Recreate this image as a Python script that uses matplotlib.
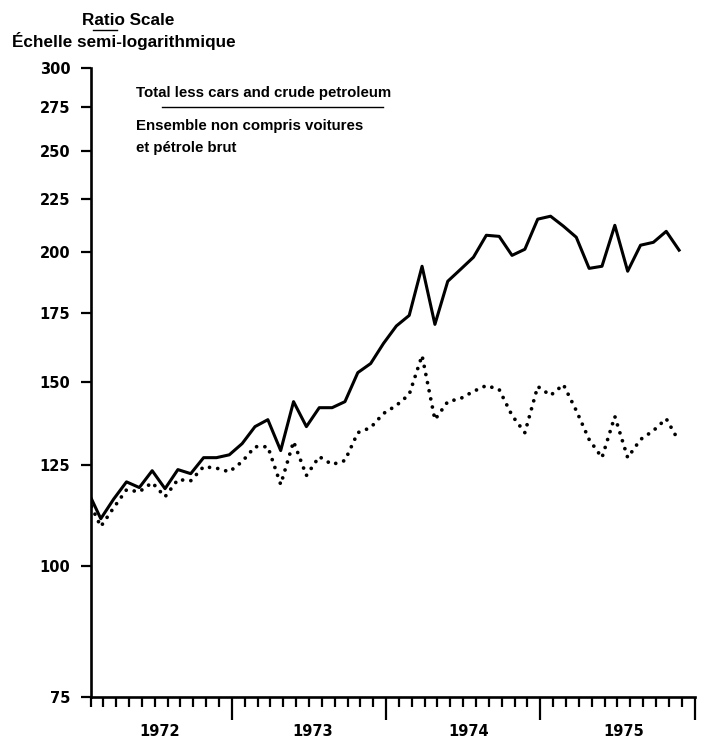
import matplotlib
matplotlib.use("Agg")
import matplotlib.pyplot as plt
from matplotlib.lines import Line2D
import matplotlib.transforms as mtransforms
import numpy as np

# ---- data (monthly index values, Jan 1972 .. Nov 1975) ----
total_less = [118.0, 111.1, 116.0, 120.5, 119.0, 123.5, 118.7, 123.8, 122.7, 127.1,
              127.1, 127.9, 131.1, 136.1, 138.2, 129.1, 143.8, 136.1, 141.9, 141.9,
              143.8, 153.3, 156.4, 163.5, 169.9, 173.9, 193.8, 170.5, 187.5, 192.5,
              197.7, 207.5, 207.0, 198.5, 201.2, 215.0, 216.4, 211.7, 206.6, 192.9,
              193.8, 212.1, 191.7, 203.0, 204.3, 209.3, 200.8]
second = [116.0, 109.2, 113.8, 118.4, 117.9, 120.3, 116.6, 121.1, 120.8, 124.6,
          124.2, 123.2, 126.0, 130.2, 130.2, 119.8, 131.7, 122.2, 127.4, 125.2,
          126.3, 134.3, 135.8, 140.1, 142.6, 146.1, 159.2, 138.2, 143.8, 144.8,
          147.1, 149.0, 147.7, 139.5, 134.3, 148.7, 145.8, 149.3, 141.0, 132.3,
          127.1, 139.2, 127.1, 132.3, 134.9, 138.5, 131.7]
yticks = [75, 100, 125, 150, 175, 200, 225, 250, 275, 300]
years = ["1972", "1973", "1974", "1975"]
year_label_pos = [6.4, 18.3, 30.4, 42.5]
year_ticks = [12, 24, 36, 48]
month_ticks = list(range(1, 48))

W, H = 702, 742
fig = plt.figure(figsize=(W / 100, H / 100), dpi=100)
left_px, right_px, top_px, bot_px = 90.5, 694.5, 68, 697
ax = fig.add_axes([left_px / W, 1 - bot_px / H, (right_px - left_px) / W, (bot_px - top_px) / H])

x = np.arange(len(total_less)) + 0.8
ax.plot(x, total_less, color="black", lw=2.2, solid_joinstyle="round", clip_on=True)
ax.plot(x, second, color="black", lw=2.7, linestyle=(0, (0.01, 2.2)),
        dash_capstyle="round", clip_on=True)

ax.set_yscale("log")
ax.set_ylim(75, 300)
ax.set_xlim(1, 48)
ax.yaxis.set_major_locator(matplotlib.ticker.FixedLocator(yticks))
ax.yaxis.set_minor_locator(matplotlib.ticker.NullLocator())
ax.set_yticklabels([str(v) for v in yticks], fontfamily="DejaVu Sans",
                   fontweight="bold", fontsize=10.5)
ax.tick_params(axis="y", which="major", direction="out", length=7.5, width=1.6, pad=7)

ax.set_xticks(year_ticks)
ax.set_xticklabels([])
ax.set_xticks(month_ticks, minor=True)
ax.tick_params(axis="x", which="major", direction="out", length=16.5, width=1.6)
ax.tick_params(axis="x", which="minor", direction="out", length=7.5, width=1.6)

for s in ["top", "right"]:
    ax.spines[s].set_visible(False)
for s in ["left", "bottom"]:
    ax.spines[s].set_linewidth(1.9)

trans = mtransforms.blended_transform_factory(ax.transData, fig.transFigure)
for lab, pos in zip(years, year_label_pos):
    ax.text(pos, 1 - 736.5 / H, lab, transform=trans, ha="center", va="baseline",
            fontfamily="DejaVu Sans", fontweight="bold", fontsize=10.5)

def fx(px):
    return px / W

def fy(py):
    return 1 - py / H

fig.text(fx(128), fy(25), "Ratio Scale", ha="center", va="baseline",
         fontfamily="Liberation Sans", fontweight="bold", fontsize=12.3)
fig.add_artist(Line2D([fx(93), fx(117)], [fy(29.5), fy(29.5)], color="black", lw=1.0))
fig.text(fx(12), fy(47), "Échelle semi-logarithmique", ha="left", va="baseline",
         fontfamily="Liberation Sans", fontweight="bold", fontsize=12.3)

fig.text(fx(136.5), fy(96.5), "Total less cars and crude petroleum", ha="left",
         va="baseline", fontfamily="Liberation Sans", fontweight="bold", fontsize=10.8)
fig.add_artist(Line2D([fx(162), fx(383)], [fy(107), fy(107)], color="black", lw=1.0))
fig.text(fx(136.5), fy(130), "Ensemble non compris voitures", ha="left",
         va="baseline", fontfamily="Liberation Sans", fontweight="bold", fontsize=10.8)
fig.text(fx(136.5), fy(152), "et pétrole brut", ha="left",
         va="baseline", fontfamily="Liberation Sans", fontweight="bold", fontsize=10.8)

fig.savefig("out.png", dpi=100)
